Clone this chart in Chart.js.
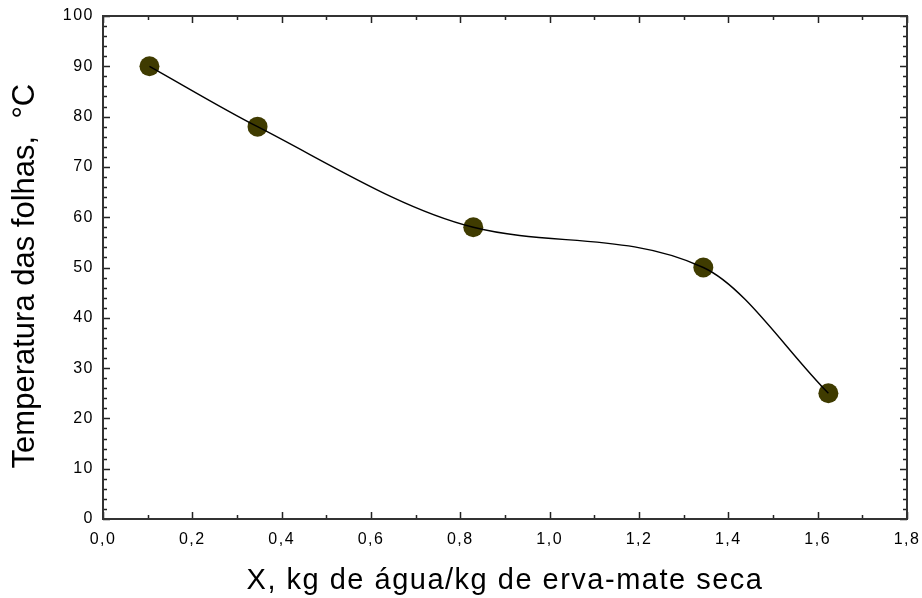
<!DOCTYPE html>
<html>
<head>
<meta charset="utf-8">
<script src="https://cdn.jsdelivr.net/npm/chart.js@4.4.1/dist/chart.umd.min.js"></script>
<style>
  html, body { margin: 0; padding: 0; background: #fff; }
  #wrap { width: 922px; height: 598px; }
</style>
</head>
<body>
<div id="wrap"><canvas id="myChart"></canvas></div>
<script>
// dados
const umidadeX = [0.104, 0.346, 0.829, 1.344, 1.624];
const temperatura = [90, 78, 58, 50, 25];
const xTicks = [0, 0.2, 0.4, 0.6, 0.8, 1.0, 1.2, 1.4, 1.6, 1.8];
const yTicks = [0, 10, 20, 30, 40, 50, 60, 70, 80, 90, 100];

const pontos = umidadeX.map((x, i) => ({ x: x, y: temperatura[i] }));

// moldura e marcas de escala para dentro (como no Origin)
const molduraPlugin = {
    id: 'moldura',
    beforeDraw(chart) {
        chart.ctx.letterSpacing = '1.5px';
        ['x', 'y'].forEach(id => {
            const sc = chart.scales[id];
            if (!sc._patched) {
                const orig = sc.drawTitle;
                const sp = id === 'x' ? '1.5px' : '0px';
                sc.drawTitle = function (area) {
                    const ctx = this.ctx;
                    ctx.letterSpacing = sp;
                    orig.call(this, area);
                    ctx.letterSpacing = '1.5px';
                };
                sc._patched = true;
            }
        });
    },
    afterDatasetsDraw(chart) {
        const ctx = chart.ctx;
        const a = chart.chartArea;
        const xs = chart.scales.x, ys = chart.scales.y;
        ctx.save();
        ctx.strokeStyle = '#222';
        ctx.lineWidth = 1.5;
        ctx.beginPath();
        // x: maiores a cada 0,2, menores a cada 0,1
        for (let i = 0; i <= 18; i++) {
            const v = i / 10;
            const px = Math.round(xs.getPixelForValue(v)) + 0.5;
            const len = i % 2 === 0 ? 7 : 4;
            ctx.moveTo(px, a.bottom); ctx.lineTo(px, a.bottom - len);
            ctx.moveTo(px, a.top); ctx.lineTo(px, a.top + len);
        }
        // y: maiores a cada 10, menores a cada 2
        for (let v = 0; v <= 100; v += 2) {
            const py = Math.round(ys.getPixelForValue(v)) + 0.5;
            const len = v % 10 === 0 ? 7 : 4;
            ctx.moveTo(a.left, py); ctx.lineTo(a.left + len, py);
            ctx.moveTo(a.right, py); ctx.lineTo(a.right - len, py);
        }
        ctx.stroke();
        ctx.lineWidth = 2;
        ctx.strokeStyle = '#333';
        ctx.strokeRect(a.left, a.top, a.right - a.left, a.bottom - a.top);
        ctx.restore();
    }
};

new Chart(document.getElementById('myChart'), {
    type: 'scatter',
    data: {
        datasets: [{
            label: 'ajuste',
            data: pontos,
            showLine: true,
            borderColor: '#000',
            borderWidth: 1.4,
            pointRadius: 0,
            cubicInterpolationMode: 'monotone',
            fill: false,
            order: 0
        }, {
            label: 'Temperatura',
            data: pontos,
            showLine: false,
            pointRadius: 10,
            pointBackgroundColor: '#3f3b00',
            pointBorderColor: '#3f3b00',
            pointBorderWidth: 0,
            order: 1
        }]
    },
    plugins: [molduraPlugin],
    options: {
        responsive: true,
        maintainAspectRatio: false,
        animation: false,
        layout: { padding: { top: 16, right: 15, left: 0, bottom: 0 } },
        plugins: {
            legend: { display: false },
            tooltip: { enabled: false }
        },
        scales: {
            x: {
                type: 'linear',
                min: 0,
                max: 1.8,
                afterBuildTicks: sc => { sc.ticks = xTicks.map(v => ({ value: v })); },
                afterFit: sc => { sc.height = 79; sc.paddingRight = 0; sc.paddingLeft = 0; },
                grid: { display: false, drawTicks: false },
                border: { display: false },
                ticks: {
                    color: '#000',
                    padding: 11,
                    maxRotation: 0,
                    font: { family: 'Liberation Sans, Arial', size: 16 },
                    callback: v => v.toFixed(1).replace('.', ',')
                },
                title: {
                    display: true,
                    text: 'X, kg de água/kg de erva-mate seca',
                    color: '#000',
                    font: { family: 'Liberation Sans, Arial', size: 29 },
                    padding: { top: 0, bottom: 0 }
                }
            },
            y: {
                min: 0,
                max: 100,
                afterBuildTicks: sc => { sc.ticks = yTicks.map(v => ({ value: v })); },
                afterFit: sc => { sc.width = 103; sc.paddingTop = 0; sc.paddingBottom = 0; },
                grid: { display: false, drawTicks: false },
                border: { display: false },
                ticks: {
                    color: '#000',
                    padding: 9,
                    font: { family: 'Liberation Sans, Arial', size: 16 },
                    callback: v => String(v)
                },
                title: {
                    display: true,
                    text: 'Temperatura das folhas,  °C  ',
                    color: '#000',
                    font: { family: 'Liberation Sans, Arial', size: 31 },
                    padding: { top: 7, bottom: 0 }
                }
            }
        }
    }
});
</script>
</body>
</html>
